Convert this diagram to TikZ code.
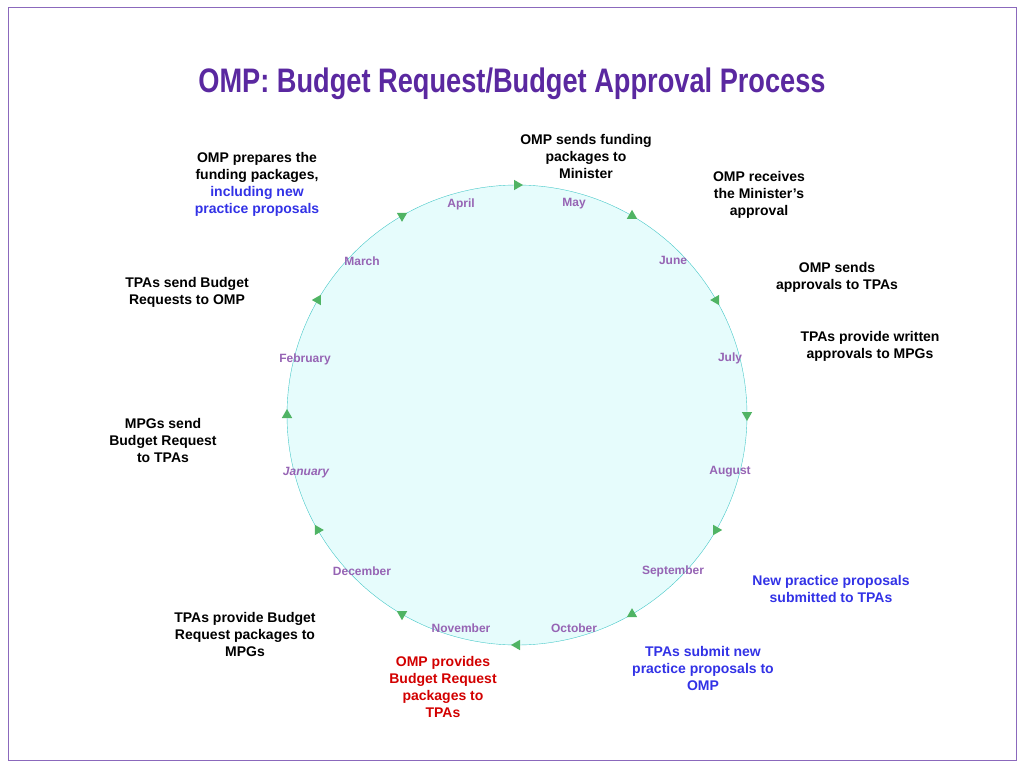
\documentclass[tikz,border=0pt]{standalone}
\usepackage{fontspec}
\setmainfont{Liberation Sans}
\newfontfamily\titlefont[FakeStretch=0.8]{Liberation Sans}
\usetikzlibrary{shapes.geometric,calc}
\definecolor{titlepurple}{RGB}{90,40,160}
\definecolor{monthpurple}{RGB}{150,100,180}
\definecolor{ringcyan}{RGB}{70,200,200}
\definecolor{ringfill}{RGB}{230,252,252}
\definecolor{tipgreen}{RGB}{80,180,100}
\definecolor{newblue}{RGB}{50,50,230}
\definecolor{ompred}{RGB}{210,0,0}
\tikzstyle{step text} = [align=center, font=\bfseries\fontsize{14}{17}\selectfont]
\tikzstyle{month} = [text=monthpurple, font=\bfseries\fontsize{12}{14}\selectfont]
\tikzstyle{tip} = [isosceles triangle, fill=tipgreen, inner sep=0pt, minimum height=9pt, minimum width=9pt, isosceles triangle apex angle=60]
\begin{document}
\begin{tikzpicture}[x=1pt, y=-1pt]
  \useasboundingbox (0,0) rectangle (1024,768);
  \draw [titlepurple!70, line width=1pt] (8,8) rectangle (1016,760);
  \node (title) [text=titlepurple, font=\titlefont\bfseries\fontsize{34}{40}\selectfont] at (512,84) {OMP: Budget Request/Budget Approval Process};

  % the year ring
  \coordinate (c) at (517,415);
  \draw [ringcyan, fill=ringfill] (c) circle [radius=230];
  \foreach \a in {90,60,...,-240}
    \node [tip, rotate=\a-90] at ($(c)+(\a:230 and -230)$) {};

  % months
  \node (apr) [month] at (461,204) {April};
  \node (may) [month] at (574,204) {May};
  \node (jun) [month] at (673,260) {June};
  \node (jul) [month] at (730,358) {July};
  \node (aug) [month] at (730,472) {August};
  \node (sep) [month] at (673,571) {September};
  \node (oct) [month] at (574,628) {October};
  \node (nov) [month] at (461,628) {November};
  \node (dec) [month] at (362,571) {December};
  \node (jan) [month, font=\bfseries\itshape\fontsize{12}{14}\selectfont] at (306,473) {January};
  \node (feb) [month] at (305,359) {February};
  \node (mar) [month] at (362,261) {March};

  % what happens when
  \node (sends) [step text] at (586,156) {OMP sends funding\\packages to\\Minister};
  \node (receives) [step text] at (759,195) {OMP receives\\the Minister's\\approval};
  \node (approvals) [step text] at (837,277) {OMP sends\\approvals to TPAs};
  \node (written) [step text] at (870,346) {TPAs provide written\\approvals to MPGs};
  \node (newprop) [step text, text=newblue] at (831,589) {New practice proposals\\submitted to TPAs};
  \node (submit) [step text, text=newblue] at (703,668) {TPAs submit new\\practice proposals to\\OMP};
  \node (provides) [step text, text=ompred] at (443,687) {OMP provides\\Budget Request\\packages to\\TPAs};
  \node (packages) [step text] at (245,634) {TPAs provide Budget\\Request packages to\\MPGs};
  \node (mpgs) [step text] at (163,440) {MPGs send\\Budget Request\\to TPAs};
  \node (requests) [step text] at (187,292) {TPAs send Budget\\Requests to OMP};
  \node (prepares) [step text] at (257,184) {OMP prepares the\\funding packages,\\\textcolor{newblue}{including new}\\\textcolor{newblue}{practice proposals}};
\end{tikzpicture}
\end{document}
